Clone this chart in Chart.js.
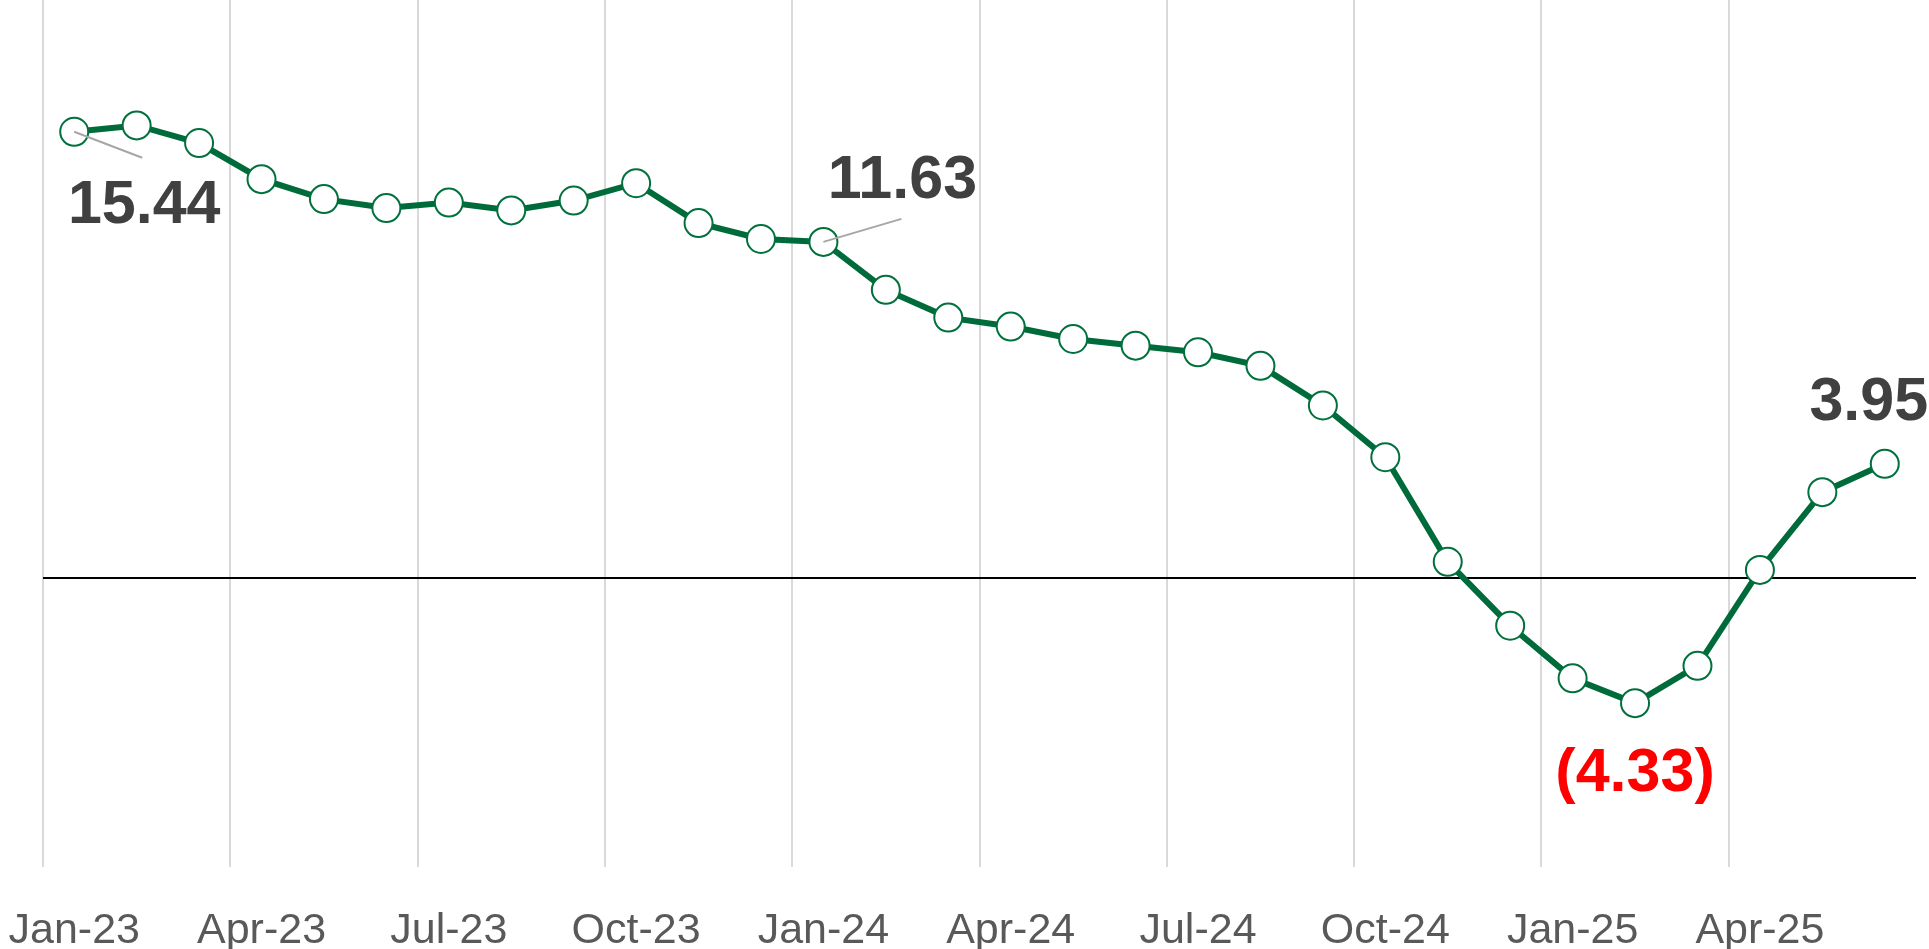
<!DOCTYPE html>
<html>
<head>
<meta charset="utf-8">
<script src="https://cdn.jsdelivr.net/npm/chart.js@4"></script>
<style>
  html, body { margin: 0; padding: 0; background: #fff; }
  #wrap { width: 1929px; height: 949px; position: relative; }
</style>
</head>
<body>
<div id="wrap"><canvas id="spreadChart"></canvas></div>
<script>
// monthly values, Jan-23 .. Jun-25
const months = [
    'Jan-23', 'Feb-23', 'Mar-23', 'Apr-23', 'May-23', 'Jun-23', 'Jul-23', 'Aug-23', 'Sep-23', 'Oct-23', 'Nov-23', 'Dec-23',
    'Jan-24', 'Feb-24', 'Mar-24', 'Apr-24', 'May-24', 'Jun-24', 'Jul-24', 'Aug-24', 'Sep-24', 'Oct-24', 'Nov-24', 'Dec-24',
    'Jan-25', 'Feb-25', 'Mar-25', 'Apr-25', 'May-25', 'Jun-25'
];
const values = [
    15.44, 15.66, 15.05, 13.80, 13.11, 12.80, 12.99, 12.72, 13.06, 13.66, 12.28, 11.73,
    11.63, 9.97, 9.01, 8.70, 8.27, 8.04, 7.81, 7.34, 5.97, 4.18, 0.56, -1.65,
    -3.47, -4.33, -3.04, 0.28, 2.97, 3.95
];
const yMin = -10;
const yMax = 20;
const yStep = 10;
const labelEvery = 3; // quarterly tick labels

// which points get a value label
const labelled = [0, 12, 25, 29];

const fmt = v => v < 0 ? '(' + Math.abs(v).toFixed(2) + ')' : v.toFixed(2);

const valueLabels = {
    id: 'valueLabels',
    afterDatasetsDraw(chart) {
        const ctx = chart.ctx;
        const meta = chart.getDatasetMeta(0);
        // per label: text offset from point, optional leader end
        const look = {
            0:  { dx: 70, dy: 91, leader: [68, 26] },
            12: { dx: 79, dy: -44, leader: [78, -23] },
            25: { dx: 0, dy: 88, color: '#FF0000' },
            29: { dx: -16, dy: -44 }
        };
        ctx.save();
        labelled.forEach(i => {
            const pt = meta.data[i];
            const o = look[i];
            if (o.leader) {
                ctx.strokeStyle = '#A6A6A6';
                ctx.lineWidth = 2;
                ctx.beginPath();
                ctx.moveTo(pt.x, pt.y);
                ctx.lineTo(pt.x + o.leader[0], pt.y + o.leader[1]);
                ctx.stroke();
            }
            ctx.font = 'bold 61px "Liberation Sans", Arial, sans-serif';
            ctx.fillStyle = o.color || '#404040';
            ctx.textAlign = 'center';
            ctx.textBaseline = 'alphabetic';
            ctx.fillText(fmt(values[i]), pt.x + o.dx, pt.y + o.dy);
        });
        ctx.restore();
    }
};

const ctx = document.getElementById('spreadChart').getContext('2d');
new Chart(ctx, {
    type: 'line',
    data: {
        labels: months,
        datasets: [{
            data: values,
            borderColor: '#006B3A',
            borderWidth: 6,
            pointRadius: 14,
            pointHoverRadius: 14,
            pointBorderWidth: 2,
            pointBorderColor: '#00703C',
            pointBackgroundColor: '#FFFFFF',
            tension: 0,
            clip: false
        }]
    },
    options: {
        responsive: true,
        maintainAspectRatio: false,
        animation: false,
        layout: { autoPadding: false, padding: { left: 43, right: 13, top: 0, bottom: 0 } },
        plugins: {
            legend: { display: false },
            tooltip: { enabled: false }
        },
        scales: {
            x: {
                offset: true,
                grid: {
                    offset: true,
                    drawTicks: false,
                    lineWidth: 2,
                    color: c => (c.index % labelEvery === 0) ? '#D9D9D9' : 'rgba(0,0,0,0)'
                },
                border: { display: false },
                ticks: {
                    autoSkip: false,
                    maxRotation: 0,
                    padding: 43,
                    color: '#595959',
                    font: { family: '"Liberation Sans", Arial, sans-serif', size: 43, lineHeight: 1 },
                    callback: function (val, i) {
                        return i % labelEvery === 0 ? this.getLabelForValue(val) : '';
                    }
                },
                afterFit: scale => {
                    scale.height = 82;
                    scale.paddingLeft = 0;
                    scale.paddingRight = 0;
                }
            },
            y: {
                min: yMin,
                max: yMax,
                grid: {
                    drawTicks: false,
                    lineWidth: 2,
                    color: c => (c.tick && c.tick.value === 0) ? '#000000' : 'rgba(0,0,0,0)'
                },
                border: { display: false },
                ticks: { display: false, stepSize: yStep },
                afterFit: scale => {
                    scale.width = 0;
                    scale.paddingTop = 0;
                    scale.paddingBottom = 0;
                }
            }
        }
    },
    plugins: [valueLabels]
});
</script>
</body>
</html>
